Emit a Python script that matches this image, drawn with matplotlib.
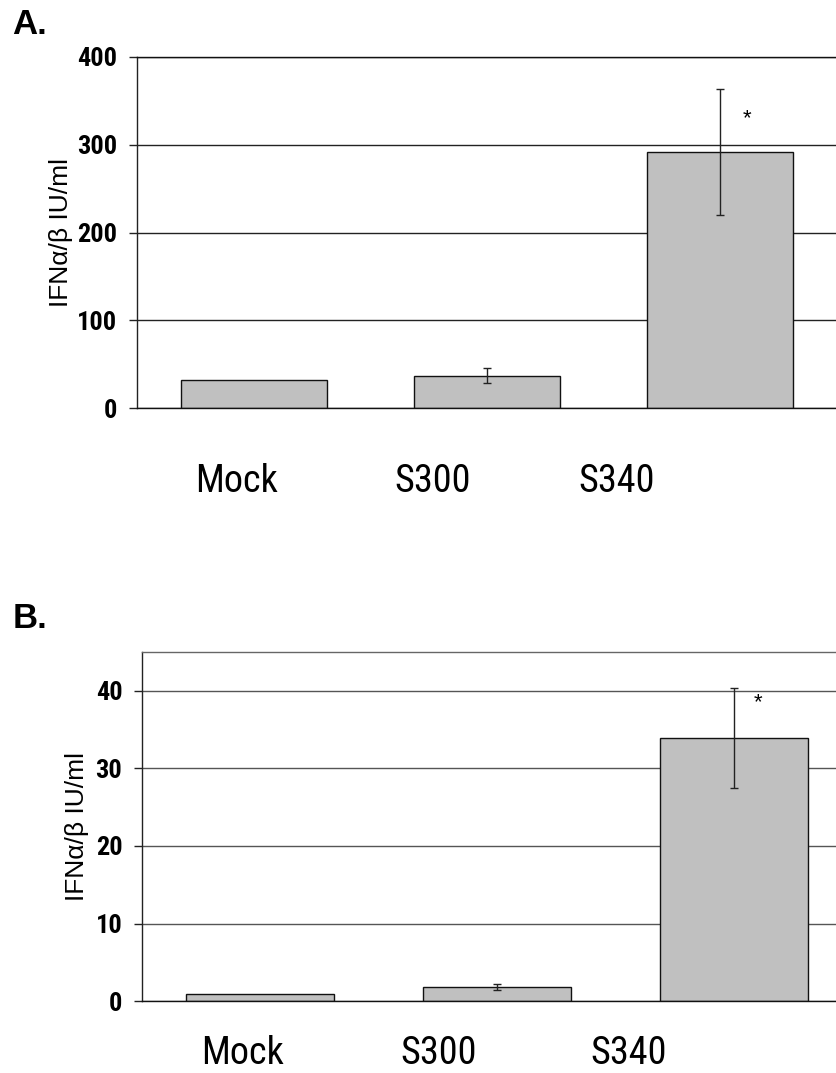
import matplotlib
matplotlib.use("Agg")
import matplotlib.pyplot as plt
import matplotlib.font_manager as fm

categories = ["Mock", "S300", "S340"]
a_values = [32, 37, 292]
a_errors = [0, 9, 72]
b_values = [0.95, 1.8, 33.9]
b_errors = [0.05, 0.4, 6.4]
a_yticks = [0, 100, 200, 300, 400]
b_yticks = [0, 10, 20, 30, 40]
ylabel = "IFNα/β IU/ml"


def _w(v):
    if isinstance(v, str):
        return fm.weight_dict.get(v, 400)
    return int(v)


_pref = ["Nimbus Sans Narrow", "Liberation Sans Narrow", "Arial Narrow", "Roboto Condensed",
         "Archivo Narrow", "PT Sans Narrow", "Pragati Narrow", "Liberation Sans"]


def pick(bold):
    for n in _pref:
        for f in fm.fontManager.ttflist:
            if f.name == n and ((_w(f.weight) >= 600) if bold else (_w(f.weight) < 600)):
                return n
    return "Liberation Sans"


NARROW = [pick(False), "Liberation Sans", "DejaVu Sans"]
NARROW_B = [pick(True), "Liberation Sans", "DejaVu Sans"]
REG = ["Liberation Sans", "DejaVu Sans"]

W, H = 837, 1073
fig = plt.figure(figsize=(W / 100, H / 100), dpi=100)


def px_axes(l, t, r, b):
    return fig.add_axes([l / W, 1 - b / H, (r - l) / W, (b - t) / H])


def style(ax, ymax, yticks, gridcol, topcol, rightcol):
    ax.set_ylim(0, ymax)
    ax.set_yticks(yticks)
    ax.set_xticks([])
    ax.set_axisbelow(True)
    ax.yaxis.grid(True, color=gridcol, lw=1.0)
    ax.tick_params(axis="y", direction="out", length=6, width=1, pad=8, color="#222")
    for lab in ax.get_yticklabels():
        lab.set_fontfamily(NARROW_B)
        lab.set_fontweight("bold")
        lab.set_fontsize(19)
    ax.spines["left"].set_color("#222")
    ax.spines["bottom"].set_color("#111")
    ax.spines["top"].set_color(topcol)
    if rightcol is None:
        ax.spines["right"].set_visible(False)
    else:
        ax.spines["right"].set_color(rightcol)
    for s in ax.spines.values():
        s.set_linewidth(1.0)


x = list(range(len(categories)))

# Panel A
axA = px_axes(137, 57, 837, 408)
axA.bar(x, a_values, width=0.627, color="#c0c0c0", edgecolor="#111", linewidth=1.0, zorder=2)
axA.errorbar([2, 1], [a_values[2], a_values[1]], yerr=[a_errors[2], a_errors[1]], fmt="none",
             ecolor="#222", elinewidth=1.0, capsize=3, capthick=1.0, zorder=3)
axA.set_xlim(-0.5, 2.5)
style(axA, 400, a_yticks, "#222", "#111", "#cccccc")
axA.text(2.115, 330, "*", ha="center", va="center", fontsize=16, family=REG)

# Panel B
axB = px_axes(141.7, 651.7, 837, 1001.3)
axB.bar(x, b_values, width=0.625, color="#c0c0c0", edgecolor="#111", linewidth=1.0, zorder=2)
axB.errorbar([2, 1], [b_values[2], b_values[1]], yerr=[b_errors[2], b_errors[1]], fmt="none",
             ecolor="#222", elinewidth=1.0, capsize=3, capthick=1.0, zorder=3)
axB.set_xlim(-0.5, 2.435)
style(axB, 45, b_yticks, "#555", "#666", None)
axB.text(2.1, 38.5, "*", ha="center", va="center", fontsize=16, family=REG)

# y labels
fig.text(68 / W, 1 - 232.5 / H, ylabel, rotation=90, rotation_mode="anchor",
         ha="center", va="baseline", fontsize=19, family=REG)
fig.text(84 / W, 1 - 826.5 / H, ylabel, rotation=90, rotation_mode="anchor",
         ha="center", va="baseline", fontsize=19, family=REG)

# category labels
for cx, name in zip([237, 433, 617], categories):
    fig.text(cx / W, 1 - 492 / H, name, ha="center", va="baseline", fontsize=27.5, family=NARROW)
for cx, name in zip([243, 439, 628.5], categories):
    fig.text(cx / W, 1 - 1064 / H, name, ha="center", va="baseline", fontsize=27.5, family=NARROW)

# panel letters
fig.text(12 / W, 1 - 34 / H, "A.", ha="left", va="baseline", fontsize=25, fontweight="bold", family=REG)
fig.text(13 / W, 1 - 628 / H, "B.", ha="left", va="baseline", fontsize=25, fontweight="bold", family=REG)

fig.savefig("out.png", dpi=100)
